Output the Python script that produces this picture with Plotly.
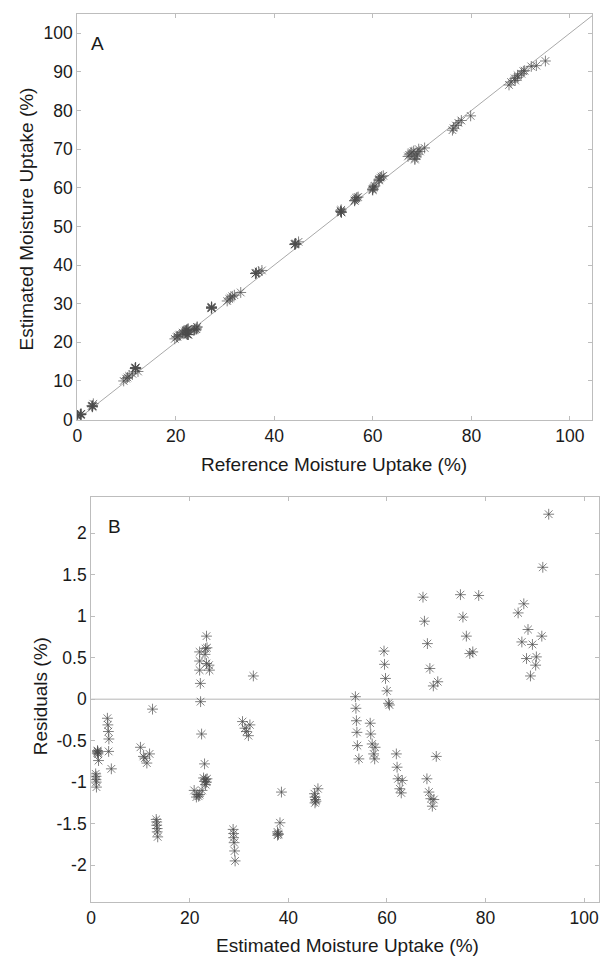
import plotly.graph_objects as go

# Estimated moisture uptake (%) and residuals (%) = reference - estimated
estimated = [
    0.92, 1.00, 0.98, 1.03, 1.08, 1.3, 1.4, 1.25, 1.4, 1.3, 1.5,
    3.3, 3.4, 3.5, 3.6, 3.55, 4.1,
    10.0, 10.6, 10.9, 11.3, 11.85, 12.45,
    13.2, 13.3, 13.3, 13.4, 13.4, 13.5,
    23.4, 22.0, 23.2, 23.5, 23.1, 22.0, 23.4, 23.9, 22.0, 24.0, 22.15, 22.2, 22.4,
    23.0, 22.8, 23.2, 23.0, 23.4, 23.2, 23.5, 20.9, 21.35, 21.5, 22.0, 22.5, 21.8,
    28.8, 28.9, 28.9, 29.0, 29.1, 29.2,
    30.7, 31.2, 31.5, 31.9, 32.2, 32.9,
    38.6, 38.3, 37.8, 37.9, 38.0, 37.8,
    46.0, 45.3, 45.4, 45.5, 45.6, 45.4,
    53.6, 53.7, 53.8, 53.9, 54.0, 54.3,
    56.6, 56.7, 57.0, 57.6, 57.3, 57.5,
    59.4, 59.5, 59.7, 60.0, 60.3, 60.5,
    61.9, 62.05, 62.25, 63.1, 62.6, 62.9, 70.0,
    68.1, 68.5, 68.9, 69.5, 69.2,
    67.3, 67.6, 68.2, 68.7, 69.4, 70.3,
    74.9, 78.6, 75.4, 76.1, 76.8, 77.4,
    87.75, 86.6, 88.6, 91.4, 87.35, 89.5, 88.3, 90.3, 90.15, 89.1,
    92.8, 91.6,
]
residuals = [
    -0.90, -0.93, -0.97, -1.00, -1.06, -0.62, -0.64, -0.65, -0.66, -0.63, -0.74,
    -0.23, -0.31, -0.39, -0.48, -0.63, -0.84,
    -0.58, -0.69, -0.71, -0.77, -0.66, -0.12,
    -1.45, -1.48, -1.52, -1.56, -1.60, -1.66,
    0.76, 0.57, 0.61, 0.62, 0.54, 0.46, 0.43, 0.41, 0.35, 0.35, 0.19, -0.03, -0.42,
    -0.78, -0.95, -0.97, -0.99, -1.00, -1.03, -0.96, -1.10, -1.18, -1.15, -1.15, -1.10, -1.17,
    -1.57, -1.62, -1.67, -1.73, -1.83, -1.95,
    -0.27, -0.35, -0.39, -0.44, -0.31, 0.28,
    -1.12, -1.49, -1.60, -1.62, -1.63, -1.64,
    -1.08, -1.14, -1.18, -1.21, -1.23, -1.25,
    0.03, -0.11, -0.26, -0.40, -0.56, -0.72,
    -0.29, -0.42, -0.54, -0.58, -0.66, -0.72,
    0.58, 0.42, 0.25, 0.10, -0.05, -0.07,
    -0.66, -0.82, -0.96, -0.98, -1.08, -1.13, -0.69,
    -0.96, -1.12, -1.20, -1.21, -1.29,
    1.23, 0.94, 0.67, 0.37, 0.16, 0.21,
    1.26, 1.25, 0.99, 0.76, 0.55, 0.57,
    1.15, 1.04, 0.84, 0.76, 0.69, 0.66, 0.49, 0.51, 0.41, 0.28,
    2.23, 1.59,
]
# Reference moisture uptake (%)
reference = [
    0.02, 0.07, 0.01, 0.03, 0.02, 0.68, 0.76, 0.60, 0.74, 0.67, 0.76,
    3.07, 3.09, 3.11, 3.12, 2.92, 3.26,
    9.42, 9.91, 10.19, 10.53, 11.19, 12.33,
    11.75, 11.82, 11.78, 11.84, 11.80, 11.84,
    24.16, 22.57, 23.81, 24.12, 23.64, 22.46, 23.83, 24.31, 22.35, 24.35, 22.34, 22.17, 21.98,
    22.22, 21.85, 22.23, 22.01, 22.40, 22.17, 22.54, 19.80, 20.17, 20.35, 20.85, 21.40, 20.63,
    27.23, 27.28, 27.23, 27.27, 27.27, 27.25,
    30.43, 30.85, 31.11, 31.46, 31.89, 33.18,
    37.48, 36.81, 36.20, 36.28, 36.37, 36.16,
    44.92, 44.16, 44.22, 44.29, 44.37, 44.15,
    53.63, 53.59, 53.54, 53.50, 53.44, 53.58,
    56.31, 56.28, 56.46, 57.02, 56.64, 56.78,
    59.98, 59.92, 59.95, 60.10, 60.25, 60.43,
    61.24, 61.23, 61.29, 62.12, 61.52, 61.77, 69.31,
    67.14, 67.38, 67.70, 68.29, 67.91,
    68.53, 68.54, 68.87, 69.07, 69.56, 70.51,
    76.16, 79.85, 76.39, 76.86, 77.35, 77.97,
    88.90, 87.64, 89.44, 92.16, 88.04, 90.16, 88.79, 90.81, 90.56, 89.38,
    95.03, 93.19,
]

identity_line = [0, 105]
zero_line_x = [0, 105]
zero_line_y = [0, 0]

x_ticks_a = [0, 20, 40, 60, 80, 100]
y_ticks_a = [0, 10, 20, 30, 40, 50, 60, 70, 80, 90, 100]
x_ticks_b = [0, 20, 40, 60, 80, 100]
y_ticks_b = [-2, -1.5, -1, -0.5, 0, 0.5, 1, 1.5, 2]
y_ticktext_b = ["-2", "-1.5", "-1", "-0.5", "0", "0.5", "1", "1.5", "2"]

W, H = 600, 965
FONT = "Liberation Sans, Arial, Helvetica, sans-serif"
AX = "#bdbdbd"
TXT = "#1a1a1a"
MK = "rgba(75,75,75,0.7)"


def px(x):
    return x / W


def py(y):
    return 1 - y / H


fig = go.Figure()

marker_style = dict(symbol="asterisk-open", size=9, color=MK,
                    line=dict(color=MK, width=1))

fig.add_trace(go.Scatter(x=identity_line, y=identity_line, mode="lines",
                         line=dict(color="#a9a9a9", width=1),
                         xaxis="x", yaxis="y", hoverinfo="skip"))
fig.add_trace(go.Scatter(x=reference, y=estimated, mode="markers",
                         marker=marker_style, xaxis="x", yaxis="y"))

fig.add_trace(go.Scatter(x=zero_line_x, y=zero_line_y, mode="lines",
                         line=dict(color="#b5b5b5", width=1),
                         xaxis="x2", yaxis="y2", hoverinfo="skip"))
fig.add_trace(go.Scatter(x=estimated, y=residuals, mode="markers",
                         marker=marker_style, xaxis="x2", yaxis="y2"))

common = dict(showline=True, linecolor=AX, linewidth=1, mirror="ticks",
              ticks="inside", ticklen=4, tickcolor=AX, tickwidth=1,
              showgrid=False, zeroline=False,
              tickfont=dict(family=FONT, size=17.5, color=TXT))

fig.update_layout(
    width=W, height=H,
    margin=dict(l=0, r=0, t=0, b=0),
    paper_bgcolor="white", plot_bgcolor="white",
    showlegend=False,
    xaxis=dict(domain=[px(73), px(593)], range=[0, 104.5], tickvals=x_ticks_a,
               anchor="y", **common),
    yaxis=dict(domain=[py(424), py(14)], range=[0, 105], tickvals=y_ticks_a,
               anchor="x", **common),
    xaxis2=dict(domain=[px(87), 1.0], range=[0, 103.0], tickvals=x_ticks_b,
                anchor="y2", **common),
    yaxis2=dict(domain=[py(911), py(502)], range=[-2.44, 2.44], tickvals=y_ticks_b,
                ticktext=y_ticktext_b, anchor="x2", **common),
)

ann_font = dict(family=FONT, size=19, color=TXT)
annotations = [
    dict(text="Estimated Moisture Uptake (%)", x=px(22), y=py(221), textangle=-90),
    dict(text="Reference Moisture Uptake (%)", x=px(332), y=py(469)),
    dict(text="Residuals (%)", x=px(36), y=py(704), textangle=-90),
    dict(text="Estimated Moisture Uptake (%)", x=px(346), y=py(955)),
    dict(text="A", x=px(93), y=py(44)),
    dict(text="B", x=px(111), y=py(532)),
]
for a in annotations:
    a.update(xref="paper", yref="paper", xanchor="center", yanchor="middle",
             showarrow=False, font=ann_font)
fig.update_layout(annotations=annotations)

fig.write_html("out.html", config={"displayModeBar": False},
               post_script="document.body.style.margin='0';document.body.style.padding='0';")
